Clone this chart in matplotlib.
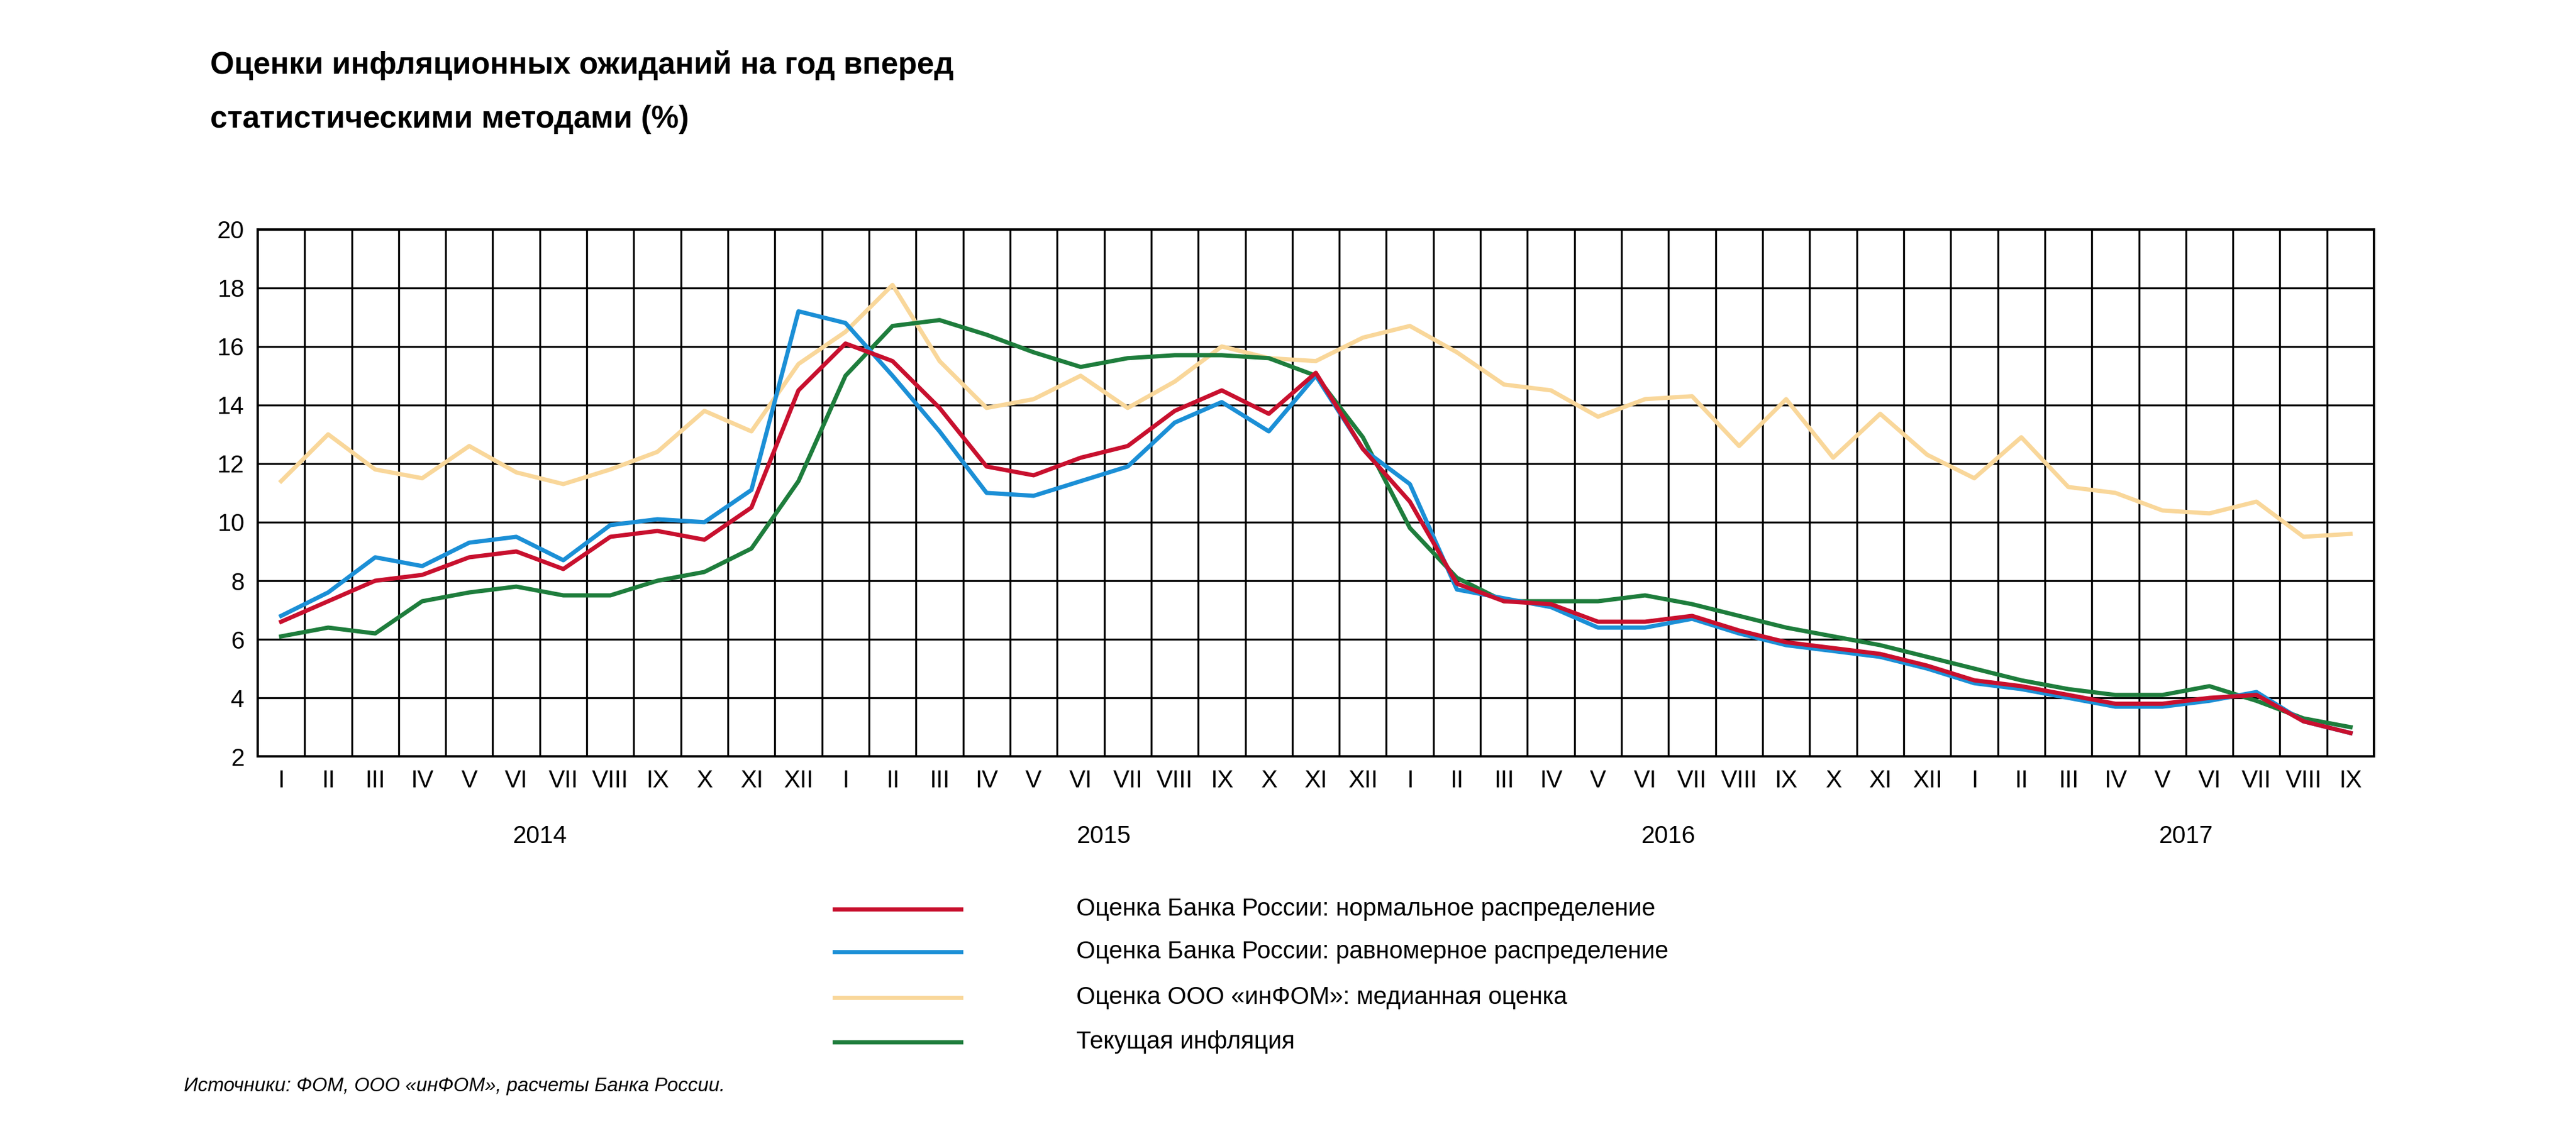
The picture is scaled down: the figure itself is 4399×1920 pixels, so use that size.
import matplotlib
matplotlib.use("Agg")
import matplotlib.pyplot as plt
from matplotlib.lines import Line2D

months = ["I","II","III","IV","V","VI","VII","VIII","IX","X","XI","XII"]
tick_labels = months*3 + months[:9]
years = ["2014","2015","2016","2017"]

normal = [6.6,7.3,8.0,8.2,8.8,9.0,8.4,9.5,9.7,9.4,10.5,14.5,
          16.1,15.5,13.9,11.9,11.6,12.2,12.6,13.8,14.5,13.7,15.1,12.5,
          10.7,7.9,7.3,7.2,6.6,6.6,6.8,6.3,5.9,5.7,5.5,5.1,
          4.6,4.4,4.1,3.8,3.8,4.0,4.1,3.2,2.8]
uniform = [6.8,7.6,8.8,8.5,9.3,9.5,8.7,9.9,10.1,10.0,11.1,17.2,
           16.8,15.0,13.1,11.0,10.9,11.4,11.9,13.4,14.1,13.1,15.0,12.5,
           11.3,7.7,7.4,7.1,6.4,6.4,6.7,6.2,5.8,5.6,5.4,5.0,
           4.5,4.3,4.0,3.7,3.7,3.9,4.2,3.2,2.8]
infom = [11.4,13.0,11.8,11.5,12.6,11.7,11.3,11.8,12.4,13.8,13.1,15.4,
         16.5,18.1,15.5,13.9,14.2,15.0,13.9,14.8,16.0,15.6,15.5,16.3,
         16.7,15.8,14.7,14.5,13.6,14.2,14.3,12.6,14.2,12.2,13.7,12.3,
         11.5,12.9,11.2,11.0,10.4,10.3,10.7,9.5,9.6]
current = [6.1,6.4,6.2,7.3,7.6,7.8,7.5,7.5,8.0,8.3,9.1,11.4,
           15.0,16.7,16.9,16.4,15.8,15.3,15.6,15.7,15.7,15.6,15.0,12.9,
           9.8,8.1,7.3,7.3,7.3,7.5,7.2,6.8,6.4,6.1,5.8,5.4,
           5.0,4.6,4.3,4.1,4.1,4.4,3.9,3.3,3.0]
labels = ["Оценка Банка России: нормальное распределение",
          "Оценка Банка России: равномерное распределение",
          "Оценка ООО «инФОМ»: медианная оценка",
          "Текущая инфляция"]
colors = ["#c8102e", "#1b8fd6", "#f9d79a", "#1e7d3c"]

FONT = ["Liberation Sans Narrow", "Liberation Sans", "DejaVu Sans"]
plt.rcParams["font.family"] = FONT

fig = plt.figure(figsize=(21.995, 9.6), dpi=200)
ax = fig.add_axes([0.100, 0.327, 0.8216, 0.469])
n = len(tick_labels)
x = list(range(n))
for s, c in zip([infom, current, uniform, normal], [colors[2], colors[3], colors[1], colors[0]]):
    ax.plot(x, s, color=c, lw=2.6, zorder=3)
ax.set_xlim(-0.5, n-0.5)
ax.set_ylim(2, 20)
ax.set_yticks(range(2, 21, 2))
ax.set_yticks([], minor=True)
ax.set_xticks(x)
ax.set_xticklabels(tick_labels, fontsize=15)
ax.set_xticks([i-0.5 for i in range(n+1)], minor=True)
ax.tick_params(axis="x", which="major", length=0, pad=8)
ax.tick_params(axis="x", which="minor", length=0)
ax.tick_params(axis="y", length=0, labelsize=15, pad=8)
ax.grid(which="minor", axis="x", color="black", lw=1.2)
ax.grid(which="major", axis="y", color="black", lw=1.2)
for sp in ax.spines.values():
    sp.set_color("black"); sp.set_linewidth(1.4)
ax.set_axisbelow(True)
for yr, pos in zip(years, [5.5, 17.5, 29.5, 40.5]):
    ax.text(pos, -0.13, yr, transform=ax.get_xaxis_transform(), ha="center", va="top", fontsize=15)

fig.text(128/1568, 1-40/686, "Оценки инфляционных ожиданий на год вперед", fontsize=19, fontweight="bold", va="center")
fig.text(128/1568, 1-73/686, "статистическими методами (%)", fontsize=19, fontweight="bold", va="center")

for lab, c, yy in zip(labels, colors, [555, 581, 609, 636]):
    fy = 1 - yy/686
    fig.add_artist(Line2D([508/1568, 585/1568], [fy, fy], color=c, lw=2.6))
    fig.text(655/1568, fy, lab, fontsize=15, va="center")
fig.text(112/1568, 1-663/686, "Источники: ФОМ, ООО «инФОМ», расчеты Банка России.", fontsize=12, style="italic", va="center")

fig.savefig("out.png", dpi=200, facecolor="white")
